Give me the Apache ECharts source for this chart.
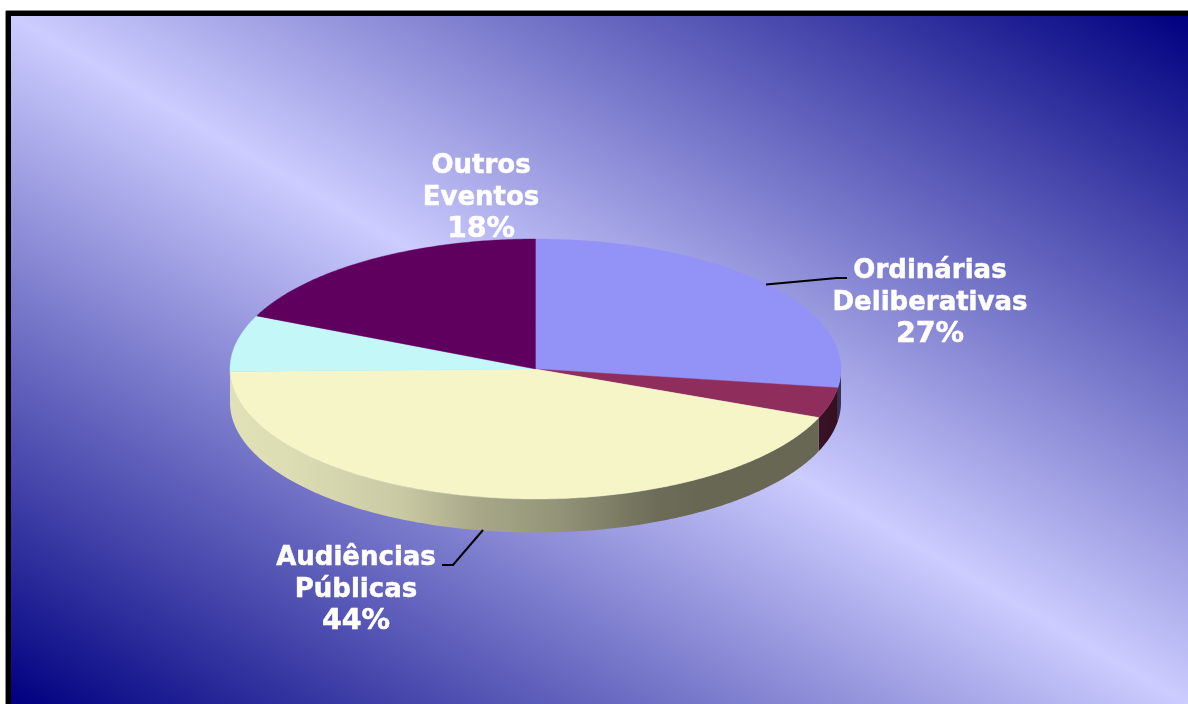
<!DOCTYPE html>
<html>
<head>
<meta charset="utf-8">
<style>html,body{margin:0;padding:0;background:#fff}#c{width:1188px;height:704px}</style>
<script src="https://cdn.jsdelivr.net/npm/echarts@6/dist/echarts.min.js"></script>
</head>
<body>
<div id="c"></div>
<script>
const categories = ['Ordinárias\nDeliberativas', 'Extraordinárias', 'Audiências\nPúblicas', 'Solenes', 'Outros\nEventos'];
const values = [27.3, 3.8, 43.6, 7, 18.3];
const colors = ['#9393F7', '#8F2D5C', '#F5F5C8', '#C4F8F8', '#5F005F'];
const labelled = [true, false, true, false, true];

const layout = { cx: 535.5, cy: 369, rx: 305.5, ry: 130, depth: 33.5 };
const labelPos = { 0: [930, 271], 2: [356, 558], 4: [481, 166] };
const leaders = { 0: [[766, 284.5], [837, 278], [847, 278]], 2: [[483, 530], [453, 565], [442, 565]] };
const shade = [[0, 0.92], [0.10, 0.90], [0.28, 0.82], [0.41, 0.68], [0.54, 0.60], [0.70, 0.44], [0.77, 0.42], [0.96, 0.42], [1, 0.34]];

const total = values.reduce((a, b) => a + b, 0);
const pt = (t, dy) => [layout.cx + layout.rx * Math.sin(t), layout.cy - layout.ry * Math.cos(t) + (dy || 0)];
function arc(a, b, dy) {
  const n = Math.max(2, Math.ceil((b - a) / 0.01)), out = [];
  for (let i = 0; i <= n; i++) out.push(pt(a + (b - a) * i / n, dy));
  return out;
}
function scale(hex, f) {
  const v = parseInt(hex.slice(1), 16);
  return 'rgb(' + [(v >> 16) & 255, (v >> 8) & 255, v & 255].map(c => Math.round(c * f)).join(',') + ')';
}
const starts = []; values.reduce((s, v, i) => (starts[i] = s, s + v), 0);

function renderItem(params, api) {
  const i = params.dataIndex;
  const a = api.value(1) / total * 2 * Math.PI;
  const b = a + api.value(0) / total * 2 * Math.PI;
  const color = colors[i];
  const children = [];
  const fa = Math.max(a, Math.PI / 2), fb = Math.min(b, Math.PI * 1.5);
  if (fb > fa) {
    const top = arc(fa, fb, 0), bottom = arc(fa, fb, layout.depth).reverse();
    children.push({
      type: 'polygon', shape: { points: top.concat(bottom) },
      style: { fill: { type: 'linear', global: true, x: layout.cx - layout.rx, y: 0, x2: layout.cx + layout.rx, y2: 0,
        colorStops: shade.map(s => ({ offset: s[0], color: scale(color, s[1]) })) } }
    });
  }
  children.push({
    type: 'polygon', shape: { points: [[layout.cx, layout.cy]].concat(arc(a, b, 0)) },
    style: { fill: color, stroke: color, lineWidth: 0.4 }
  });
  return { type: 'group', children };
}
function renderOverlay(params, api) {
  const i = params.dataIndex, children = [];
  if (leaders[i]) children.push({
    type: 'polyline', shape: { points: leaders[i] },
    style: { fill: 'none', stroke: '#000', lineWidth: 2 }
  });
  if (labelled[i]) {
    const lines = categories[i].split('\n');
    lines.forEach((line, k) => children.push({
      type: 'text', x: labelPos[i][0], y: labelPos[i][1] + k * 32,
      style: { text: line, fill: '#fff', stroke: '#fff', lineWidth: 0.5, font: 'bold 26px "DejaVu Sans"', align: 'center', verticalAlign: 'middle' }
    }));
    children.push({
      type: 'text', x: labelPos[i][0], y: labelPos[i][1] + lines.length * 32,
      style: { text: Math.round(api.value(0)) + '%', fill: '#fff', stroke: '#fff', lineWidth: 0.5, font: 'bold 28.5px "DejaVu Sans"', align: 'center', verticalAlign: 'middle' }
    });
  }
  return { type: 'group', children };
}
const rows = values.map((v, i) => [v, starts[i]]);
const chart = echarts.init(document.getElementById('c'), null, { renderer: 'canvas' });
chart.setOption({
  animation: false,
  backgroundColor: '#fff',
  graphic: [
    { type: 'rect', z: -3, shape: { x: 5, y: 10, width: 1190, height: 700, r: 2 }, style: { fill: '#8a8a8a' } },
    { type: 'rect', z: -2, shape: { x: 6, y: 11, width: 1190, height: 700 }, style: { fill: '#000' } },
    { type: 'rect', z: -1, shape: { x: 11, y: 16, width: 1177, height: 688 }, style: { fill: {
      type: 'linear', global: true, x: 300, y: 873, x2: 900, y2: -153,
      colorStops: [{ offset: 0, color: '#000080' }, { offset: 0.5, color: '#CCCCFF' }, { offset: 1, color: '#000080' }] } } }
  ],
  series: [
    { type: 'custom', coordinateSystem: 'none', renderItem, data: rows, silent: true, z: 2 },
    { type: 'custom', coordinateSystem: 'none', renderItem: renderOverlay, data: rows, silent: true, z: 3 }
  ]
});
</script>
</body>
</html>
